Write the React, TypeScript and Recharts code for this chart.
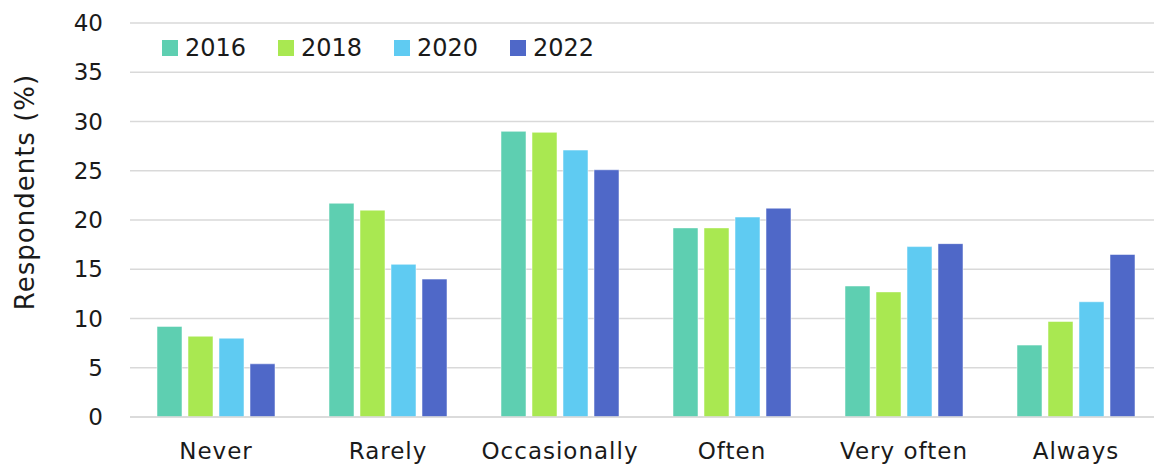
import React from 'react';
import { BarChart, Bar, XAxis, YAxis, CartesianGrid, Legend } from 'recharts';

const categories = ['Never', 'Rarely', 'Occasionally', 'Often', 'Very often', 'Always'];
const years = ['2016', '2018', '2020', '2022'];
const v2016 = [9.2, 21.7, 29.0, 19.2, 13.3, 7.3];
const v2018 = [8.2, 21.0, 28.9, 19.2, 12.7, 9.7];
const v2020 = [8.0, 15.5, 27.1, 20.3, 17.3, 11.7];
const v2022 = [5.4, 14.0, 25.1, 21.2, 17.6, 16.5];
const yTicks = [0, 5, 10, 15, 20, 25, 30, 35, 40];
const colors = ['#5ECFB1', '#A9E851', '#5FCBF2', '#4F68C8'];

const seriesValues = [v2016, v2018, v2020, v2022];
const data = categories.map((c, i) => {
  const row: Record<string, string | number> = { name: c };
  years.forEach((y, k) => {
    row[y] = seriesValues[k][i];
  });
  return row;
});

const FONT = '"DejaVu Sans", sans-serif';

const LegendContent = (props: any) => {
  const payload = props.payload || [];
  return (
    <div style={{ display: 'flex', fontFamily: FONT, fontSize: 24, color: '#1a1a1a' }}>
      {payload.map((p: any) => (
        <div key={p.value} style={{ display: 'flex', alignItems: 'center', width: 116 }}>
          <div style={{ width: 16, height: 16, background: p.color, marginRight: 7 }} />
          <span style={{ lineHeight: '24px' }}>{p.value}</span>
        </div>
      ))}
    </div>
  );
};

export default function App() {
  return (
    <div style={{ position: 'absolute', left: 0, top: 0, width: 1154, height: 466, overflow: 'hidden', background: '#fff' }}>
      <BarChart
        width={1162}
        height={466}
        data={data}
        margin={{ top: 23, right: 0, bottom: 19, left: 70 }}
        barSize={25}
        barGap={6}
      >
        <CartesianGrid vertical={false} stroke="#d9d9d9" strokeWidth={1.5} />
        <XAxis
          dataKey="name"
          axisLine={{ stroke: '#d9d9d9', strokeWidth: 1.5 }}
          tickLine={false}
          tickSize={0}
          tickMargin={26}
          height={30}
          interval={0}
          tick={{ fontFamily: FONT, fontSize: 23, fill: '#1a1a1a', letterSpacing: 1 }}
        />
        <YAxis
          width={60}
          domain={[0, 40]}
          ticks={yTicks}
          axisLine={false}
          tickLine={false}
          tickSize={0}
          tickMargin={27}
          tick={{ fontFamily: FONT, fontSize: 23, fill: '#1a1a1a' }}
          label={{
            content: () => (
              <text
                x={25}
                y={192}
                transform="rotate(-90 25 192)"
                textAnchor="middle"
                dominantBaseline="central"
                fontFamily={FONT}
                fontSize={26}
                fill="#1a1a1a"
                letterSpacing={1}
              >
                Respondents (%)
              </text>
            ),
          }}
        />
        <Legend
          layout="horizontal"
          verticalAlign="middle"
          align="center"
          wrapperStyle={{ top: 36, left: 162, width: 'auto', height: 24 }}
          content={<LegendContent />}
        />
        {years.map((y, k) => (
          <Bar
            key={y}
            dataKey={y}
            fill={colors[k]}
            stroke="#ffffff"
            strokeOpacity={0.5}
            strokeWidth={1}
            isAnimationActive={false}
          />
        ))}
      </BarChart>
    </div>
  );
}
